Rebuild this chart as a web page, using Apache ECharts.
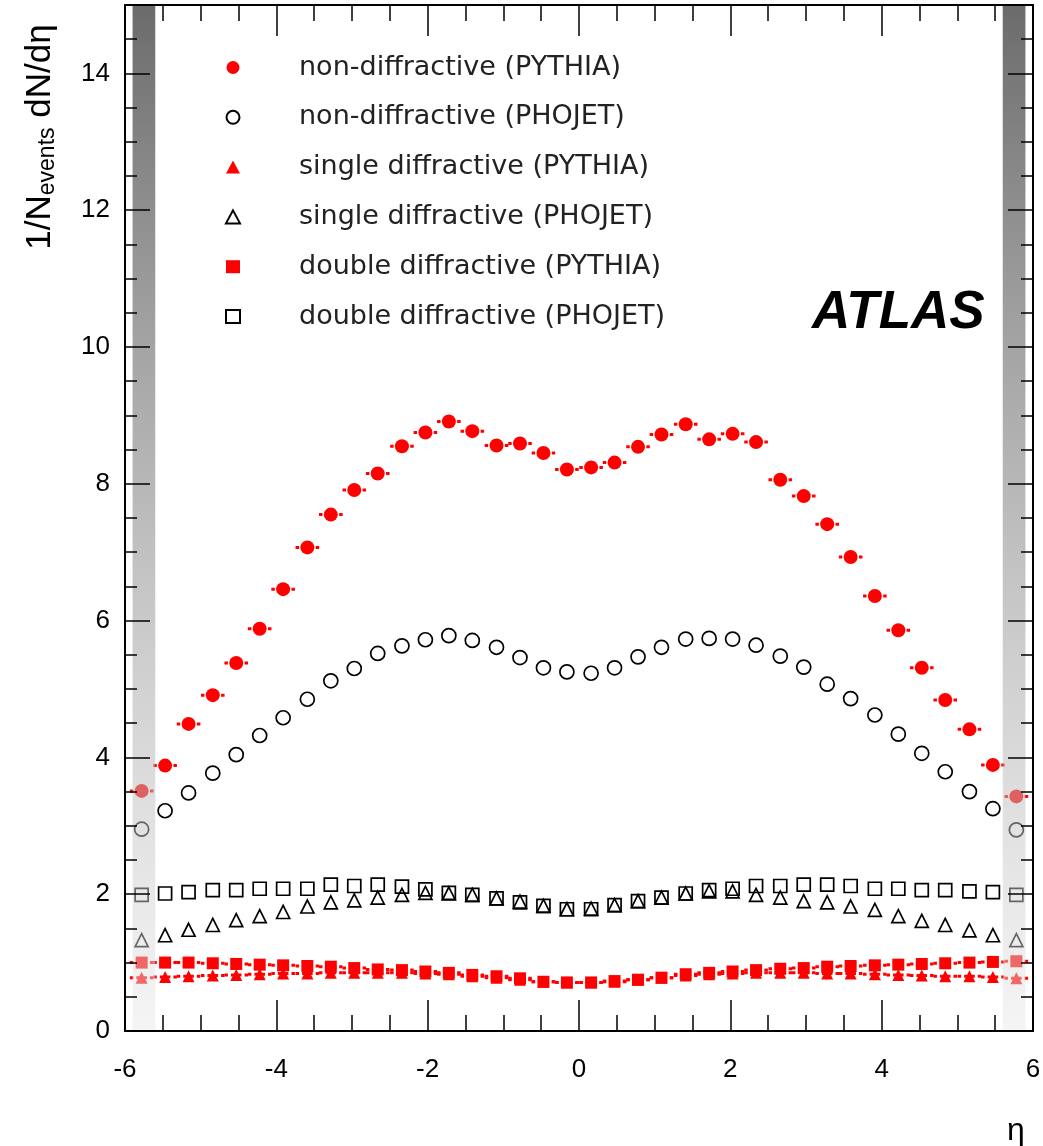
<!DOCTYPE html>
<html><head><meta charset="utf-8">
<script src="https://cdn.jsdelivr.net/npm/echarts@6/dist/echarts.min.js"></script>
<style>html,body{margin:0;padding:0;background:#fff}#c{width:1043px;height:1146px}</style>
</head><body><div id="c"></div>
<script>
// ---- data ----
const eta = [-5.78,-5.47,-5.16,-4.84,-4.53,-4.22,-3.91,-3.59,-3.28,-2.97,-2.66,-2.34,-2.03,-1.72,-1.41,-1.09,-0.78,-0.47,-0.16,
             0.16,0.47,0.78,1.09,1.41,1.72,2.03,2.34,2.66,2.97,3.28,3.59,3.91,4.22,4.53,4.84,5.16,5.47,5.78];
const binHalfWidth = 0.156;
const ndPythia = [3.51,3.88,4.49,4.91,5.38,5.88,6.46,7.07,7.55,7.91,8.15,8.55,8.75,8.91,8.77,8.56,8.59,8.45,8.21,
                  8.24,8.31,8.54,8.72,8.87,8.65,8.73,8.61,8.06,7.82,7.41,6.93,6.36,5.86,5.31,4.84,4.41,3.89,3.43];
const ndPhojet = [2.95,3.22,3.48,3.77,4.04,4.32,4.58,4.85,5.12,5.30,5.52,5.63,5.72,5.78,5.71,5.61,5.46,5.31,5.25,
                  5.23,5.31,5.47,5.61,5.73,5.74,5.73,5.64,5.48,5.32,5.07,4.86,4.62,4.34,4.06,3.79,3.50,3.25,2.94];
const sdPythia = [0.78,0.79,0.80,0.81,0.82,0.83,0.84,0.84,0.85,0.85,0.85,0.85,0.84,0.83,0.80,0.78,0.75,0.72,0.71,
                  0.71,0.72,0.75,0.78,0.81,0.83,0.84,0.85,0.85,0.85,0.84,0.84,0.83,0.82,0.81,0.80,0.80,0.79,0.77];
const sdPhojet = [1.33,1.40,1.48,1.55,1.62,1.68,1.74,1.82,1.88,1.91,1.95,1.99,2.02,2.01,1.99,1.94,1.89,1.83,1.78,
                  1.79,1.84,1.90,1.95,2.01,2.04,2.04,1.99,1.95,1.90,1.88,1.82,1.77,1.68,1.61,1.55,1.47,1.40,1.33];
const ddPythia = [1.00,1.00,1.00,0.99,0.98,0.97,0.96,0.95,0.94,0.92,0.90,0.89,0.87,0.85,0.82,0.80,0.77,0.72,0.71,
                  0.71,0.73,0.75,0.78,0.83,0.85,0.87,0.89,0.91,0.92,0.94,0.95,0.96,0.97,0.98,0.99,1.00,1.01,1.02];
const ddPhojet = [1.99,2.01,2.03,2.06,2.06,2.08,2.08,2.08,2.14,2.12,2.14,2.11,2.07,2.02,1.99,1.94,1.88,1.83,1.78,
                  1.78,1.84,1.90,1.95,2.01,2.06,2.08,2.12,2.12,2.14,2.14,2.12,2.08,2.08,2.06,2.06,2.04,2.03,1.99];
const names = ['non-diffractive (PYTHIA)','non-diffractive (PHOJET)','single diffractive (PYTHIA)',
               'single diffractive (PHOJET)','double diffractive (PYTHIA)','double diffractive (PHOJET)'];
// shaded forward regions in eta
const bandRanges = [[-5.90, -5.60], [5.60, 5.90]];
const xMin = -6, xMax = 6, yMin = 0, yMax = 15;

// ---- chart ----
const chart = echarts.init(document.getElementById('c'), null, {renderer: 'canvas'});
const pts = v => eta.map((x, i) => [x, v[i]]);
const RED = '#ff0000';
const HOLLOW = 'rgba(255,255,255,0)';

function errSeries(vals) {
  return {
    type: 'custom', z: 1, silent: true, data: pts(vals), encode: {x: 0, y: 1},
    renderItem(params, api) {
      const x = api.value(0), y = api.value(1);
      const l = api.coord([x - binHalfWidth, y]), r = api.coord([x + binHalfWidth, y]), c = api.coord([x, y]);
      const st = {stroke: RED, lineWidth: 3, lineDash: [3.5, 3]};
      return {type: 'group', children: [
        {type: 'line', shape: {x1: l[0], y1: l[1], x2: c[0], y2: c[1]}, style: st},
        {type: 'line', shape: {x1: r[0], y1: r[1], x2: c[0], y2: c[1]}, style: st}
      ]};
    }
  };
}

const bandData = bandRanges.map(b => [b[0], b[1], yMin, yMax]);

const FONT = '"Liberation Sans", Arial, sans-serif';
const tickStyle = {color: '#000', width: 1.5};
function xAx(pos, labels) {
  return {
    type: 'value', position: pos, min: xMin, max: xMax, interval: 2, z: 20,
    axisLine: {onZero: false, lineStyle: {color: '#000', width: 2}},
    axisTick: {inside: true, length: 31, lineStyle: tickStyle},
    minorTick: {show: true, splitNumber: 4, length: 16, lineStyle: tickStyle},
    splitLine: {show: false}, minorSplitLine: {show: false},
    axisLabel: {show: labels, margin: 26, fontSize: 26, fontFamily: FONT, color: '#000'},
    name: labels ? 'η' : '', nameLocation: 'end', nameGap: -26,
    nameTextStyle: {fontSize: 32, fontFamily: '"Liberation Sans Narrow", "Liberation Sans"', color: '#000', verticalAlign: 'top', padding: [84, 0, 0, 0]}
  };
}
function yAx(pos, interval, len, labels, line) {
  return {
    type: 'value', position: pos, min: yMin, max: yMax, interval: interval, z: 20,
    axisLine: {show: line, onZero: false, lineStyle: {color: '#000', width: 2}},
    axisTick: {inside: true, length: len, lineStyle: tickStyle},
    splitLine: {show: false},
    axisLabel: {show: labels, margin: 15, fontSize: 26, fontFamily: FONT, color: '#000', showMaxLabel: false}
  };
}

const option = {
  animation: false,
  backgroundColor: '#fff',
  grid: {left: 125, right: 10, top: 5, bottom: 115, outerBoundsMode: 'none', containLabel: false},
  xAxis: [xAx('bottom', true), xAx('top', false)],
  yAxis: [yAx('left', 2, 25, true, true), yAx('left', 0.5, 12, false, false),
          yAx('right', 2, 25, false, true), yAx('right', 0.5, 12, false, false)],
  legend: {
    orient: 'vertical', left: 220, top: 49, itemWidth: 14, itemHeight: 13, itemGap: 22.8,
    selectedMode: false, data: names,
    formatter: n => '{p|}' + n,
    textStyle: {fontSize: 27, fontFamily: '"DejaVu Sans"', color: '#222', lineHeight: 26,
                rich: {p: {width: 54}}}
  },
  graphic: [
    {type: 'text', x: 812, y: 313, z: 30, style: {text: 'ATLAS', font: 'italic bold 53px "Liberation Sans"', fill: '#000', align: 'left', verticalAlign: 'middle'}},
    {type: 'text', x: 40, y: 137, rotation: Math.PI / 2, z: 30, style: {
      text: '{a|1/N}{s|events}{a| dN/dη}', align: 'center', verticalAlign: 'middle', fill: '#000',
      rich: {a: {fontSize: 35, fontFamily: '"Liberation Sans"', fill: '#000'},
             s: {fontSize: 23, fontFamily: '"Liberation Sans"', fill: '#000', verticalAlign: 'bottom', padding: [16, 0, 0, 0]}}
    }}
  ],
  series: [
    errSeries(ndPythia), errSeries(sdPythia), errSeries(ddPythia),
    {name: names[0], type: 'scatter', z: 3, symbol: 'circle', symbolSize: 14, data: pts(ndPythia), itemStyle: {color: RED, opacity: 1}},
    {name: names[1], type: 'scatter', z: 3, symbol: 'circle', symbolSize: 14, data: pts(ndPhojet), itemStyle: {color: HOLLOW, borderColor: '#000', borderWidth: 1.7, opacity: 1}},
    {name: names[2], type: 'scatter', z: 3, symbol: 'triangle', symbolSize: 12, data: pts(sdPythia), itemStyle: {color: RED, opacity: 1}},
    {name: names[3], type: 'scatter', z: 3, symbol: 'triangle', symbolSize: 13, data: pts(sdPhojet), itemStyle: {color: HOLLOW, borderColor: '#000', borderWidth: 1.7, opacity: 1}},
    {name: names[4], type: 'scatter', z: 3, symbol: 'rect', symbolSize: 12, data: pts(ddPythia), itemStyle: {color: RED, opacity: 1}},
    {name: names[5], type: 'scatter', z: 3, symbol: 'rect', symbolSize: 13, data: pts(ddPhojet), itemStyle: {color: HOLLOW, borderColor: '#000', borderWidth: 1.7, opacity: 1}},
    {
      type: 'custom', z: 10, silent: true, data: bandData, encode: {x: [0, 1], y: [2, 3]},
      renderItem(params, api) {
        const p0 = api.coord([api.value(0), api.value(3)]);
        const p1 = api.coord([api.value(1), api.value(2)]);
        return {type: 'rect', shape: {x: p0[0], y: p0[1], width: p1[0] - p0[0], height: p1[1] - p0[1]},
          style: {fill: new echarts.graphic.LinearGradient(0, 0, 0, 1, [
            {offset: 0, color: 'rgba(50,50,50,0.72)'}, {offset: 1, color: 'rgba(232,232,232,0.45)'}])}};
      }
    }
  ]
};
chart.setOption(option);
</script></body></html>
